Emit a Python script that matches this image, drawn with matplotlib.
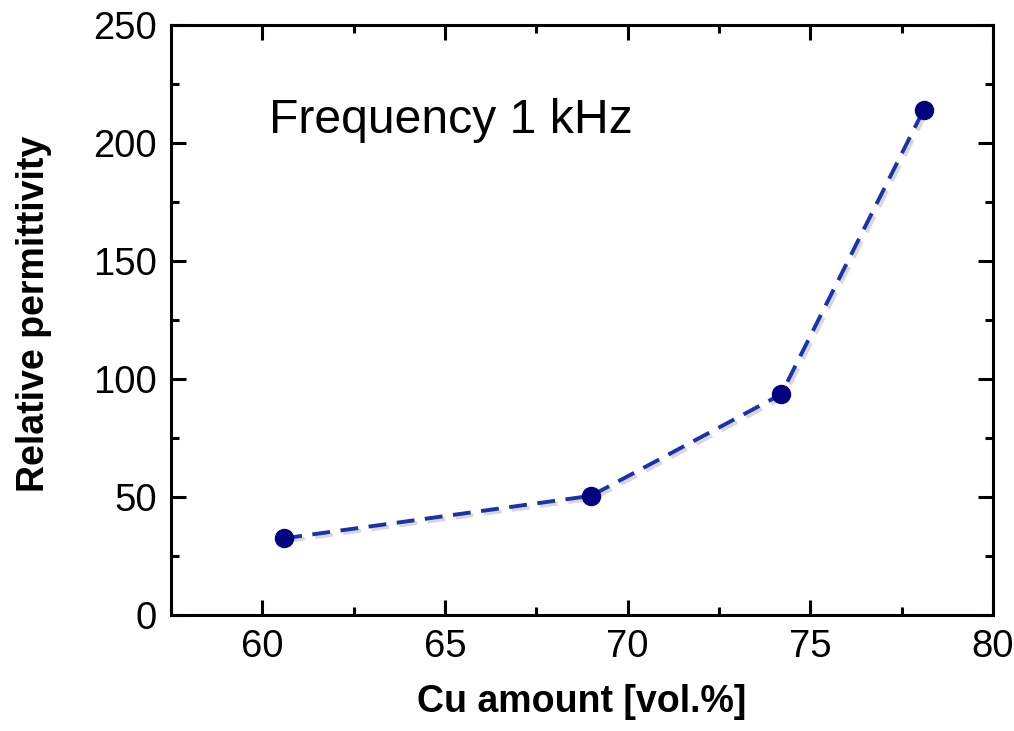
import matplotlib
matplotlib.use("Agg")
import matplotlib.pyplot as plt
import matplotlib.patheffects as pe
from matplotlib.ticker import MultipleLocator

plt.rcParams['font.family'] = ['Liberation Sans', 'DejaVu Sans']

# data
cu_amount = [60.6, 69.0, 74.2, 78.1]
permittivity = [32.5, 50.5, 93.5, 214.0]

fig = plt.figure(figsize=(10.14, 7.31), dpi=100)
ax = fig.add_axes([0.1686, 0.1587, 0.8107, 0.8071])

# dashed line with a soft shadow, then the dots on top
ax.plot(cu_amount, permittivity, color='#1a32aa', lw=2.8, dashes=(4.6, 2.7),
        path_effects=[pe.SimpleLineShadow(offset=(2, -2), shadow_color='gray', alpha=0.3),
                      pe.Normal()], zorder=2)
ax.plot(cu_amount, permittivity, 'o', color='#03037f', ms=13, zorder=3)

ax.set_xlim(57.5, 80)
ax.set_ylim(0, 250)
ax.xaxis.set_major_locator(MultipleLocator(5))
ax.xaxis.set_minor_locator(MultipleLocator(2.5))
ax.yaxis.set_major_locator(MultipleLocator(50))
ax.yaxis.set_minor_locator(MultipleLocator(25))

ax.tick_params(which='both', direction='in', top=True, right=True, width=2.2,
               labelsize=27.5, pad=10)
ax.tick_params(which='major', length=11)
ax.tick_params(which='minor', length=6)
for s in ax.spines.values():
    s.set_linewidth(2.2)

ax.set_xlabel('Cu amount [vol.%]', fontsize=27, fontweight='bold', labelpad=14)
ax.set_ylabel('Relative permittivity', fontsize=27, fontweight='bold', labelpad=30)
ax.yaxis.label.set_y(0.51)

ax.text(0.119, 0.838, 'Frequency 1 kHz', transform=ax.transAxes, fontsize=34.7,
        va='center', ha='left')

fig.savefig('out.png', dpi=100)
